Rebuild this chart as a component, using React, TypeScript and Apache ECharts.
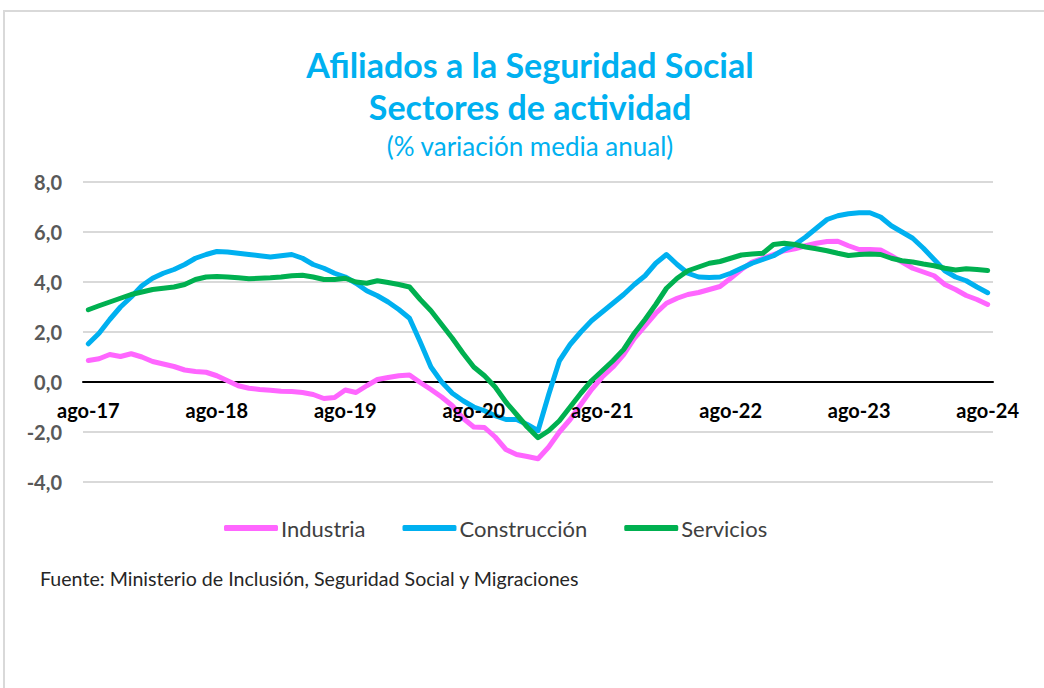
import React, { useEffect, useRef } from "react";
import * as echarts from "echarts";

const monthAbbr = ["ene", "feb", "mar", "abr", "may", "jun", "jul", "ago", "sep", "oct", "nov", "dic"];
const startYear = 2017;
const startMonth = 7; // ago
const monthCount = 85;
const categories: string[] = [];
for (let k = 0; k < monthCount; k++) {
  const m = (startMonth + k) % 12;
  const y = startYear + Math.floor((startMonth + k) / 12);
  categories.push(monthAbbr[m] + "-" + String(y).slice(2));
}

const industria = [
  0.86, 0.93, 1.1, 1.02, 1.13, 1.0, 0.82, 0.72, 0.62, 0.48, 0.42, 0.39,
  0.25, 0.05, -0.15, -0.25, -0.3, -0.33, -0.37, -0.38, -0.42, -0.5, -0.66, -0.62,
  -0.32, -0.42, -0.15, 0.1, 0.18, 0.25, 0.28, -0.02, -0.3, -0.6, -0.95, -1.45,
  -1.8, -1.82, -2.2, -2.7, -2.9, -2.98, -3.07, -2.6, -2.0, -1.5, -0.9, -0.3,
  0.2, 0.6, 1.1, 1.75, 2.25, 2.75, 3.15, 3.35, 3.5, 3.58, 3.7, 3.82,
  4.15, 4.5, 4.8, 4.95, 5.1, 5.25, 5.33, 5.45, 5.55, 5.62, 5.63, 5.45,
  5.3, 5.3, 5.28, 5.05, 4.8, 4.55, 4.4, 4.25, 3.9, 3.7, 3.46, 3.3,
  3.1,
];

const construccion = [
  1.53, 1.95, 2.5, 3.0, 3.4, 3.85, 4.15, 4.35, 4.5, 4.7, 4.95, 5.1,
  5.22, 5.2, 5.15, 5.1, 5.05, 5.0, 5.05, 5.1, 4.95, 4.7, 4.55, 4.35,
  4.2, 3.95, 3.65, 3.45, 3.2, 2.9, 2.55, 1.6, 0.6, 0.0, -0.45, -0.75,
  -1.0, -1.15, -1.35, -1.5, -1.5, -1.7, -1.95, -0.5, 0.85, 1.5, 2.0, 2.45,
  2.8, 3.15, 3.5, 3.9, 4.25, 4.75, 5.1, 4.7, 4.35, 4.2, 4.18, 4.2,
  4.35, 4.55, 4.75, 4.9, 5.05, 5.3, 5.5, 5.8, 6.15, 6.5, 6.65, 6.73,
  6.77, 6.77, 6.6, 6.25, 6.0, 5.75, 5.35, 4.9, 4.45, 4.2, 4.05, 3.8,
  3.57,
];

const servicios = [
  2.89, 3.05, 3.2, 3.35, 3.5, 3.6, 3.7, 3.75, 3.8, 3.9, 4.1, 4.2,
  4.22, 4.2, 4.17, 4.13, 4.15, 4.17, 4.2, 4.25, 4.27, 4.2, 4.1, 4.1,
  4.15, 4.0, 3.95, 4.05, 3.98, 3.9, 3.8, 3.3, 2.85, 2.3, 1.75, 1.15,
  0.6, 0.25, -0.2, -0.8, -1.3, -1.8, -2.23, -1.95, -1.55, -1.0, -0.45, 0.05,
  0.45, 0.85, 1.3, 1.95, 2.5, 3.1, 3.75, 4.15, 4.45, 4.6, 4.75, 4.82,
  4.95, 5.08, 5.12, 5.15, 5.5, 5.55, 5.5, 5.4, 5.33, 5.25, 5.15, 5.06,
  5.1, 5.12, 5.1, 4.95, 4.85, 4.8, 4.72, 4.65, 4.55, 4.48, 4.53, 4.5,
  4.46,
];

const seriesNames = ["Industria", "Construcción", "Servicios"];
const seriesColors = ["#FF66FF", "#00B0F0", "#00B050"];

const titleLine1 = "Afiliados a la Seguridad Social";
const titleLine2 = "Sectores de actividad";
const subtitle = "(% variación media anual)";
const sourceText = "Fuente: Ministerio de Inclusión, Seguridad Social y Migraciones";

const FONT = "Lato, 'Noto Sans', sans-serif";

export default function App() {
  const ref = useRef<HTMLDivElement>(null);
  useEffect(() => {
    if (!ref.current) return;
    const chart = echarts.init(ref.current, undefined, { renderer: "svg" });
    const data = [industria, construccion, servicios];
    chart.setOption({
      animation: false,
      backgroundColor: "#ffffff",
      textStyle: { fontFamily: FONT },
      grid: { left: 83, right: 51, top: 182, bottom: 206, containLabel: false },
      graphic: [
        {
          type: "rect",
          shape: { x: 4, y: 11, width: 1200, height: 800 },
          style: { fill: "none", stroke: "#d9d9d9", lineWidth: 2 },
          silent: true,
        },
        {
          type: "text",
          x: 530,
          y: 64,
          style: {
            text: titleLine1,
            fill: "#00B0F0",
            font: "bold 34px " + FONT,
            textAlign: "center",
            textVerticalAlign: "middle",
          },
        },
        {
          type: "text",
          x: 530,
          y: 106,
          style: {
            text: titleLine2,
            fill: "#00B0F0",
            font: "bold 34px " + FONT,
            textAlign: "center",
            textVerticalAlign: "middle",
          },
        },
        {
          type: "text",
          x: 530,
          y: 146,
          style: {
            text: subtitle,
            fill: "#00B0F0",
            font: "26px " + FONT,
            textAlign: "center",
            textVerticalAlign: "middle",
          },
        },
        {
          type: "text",
          x: 40,
          y: 578,
          style: {
            text: sourceText,
            fill: "#262626",
            font: "19.6px " + FONT,
            textAlign: "left",
            textVerticalAlign: "middle",
          },
        },
      ],
      legend: {
        data: seriesNames,
        left: 219,
        top: 512,
        icon: "roundRect",
        itemWidth: 54,
        itemHeight: 6,
        itemGap: 37,
        textStyle: { fontSize: 22, color: "#404040", fontFamily: FONT, padding: [0, 0, 0, -2] },
      },
      xAxis: [
        {
          type: "category",
          data: categories,
          boundaryGap: true,
          axisLine: { onZero: true, lineStyle: { color: "#000000", width: 2 } },
          axisTick: { show: false },
          axisLabel: { show: false },
          splitLine: { show: false },
        },
        {
          type: "category",
          data: categories,
          boundaryGap: true,
          position: "bottom",
          offset: -100,
          z: 10,
          axisLine: { show: false, onZero: false },
          axisTick: { show: false },
          axisLabel: {
            interval: 11,
            margin: 18,
            color: "#000000",
            fontWeight: "bold",
            fontSize: 20,
            fontFamily: FONT,
          },
          splitLine: { show: false },
        },
      ],
      yAxis: {
        type: "value",
        min: -4,
        max: 8,
        interval: 2,
        axisLine: { show: false },
        axisTick: { show: false },
        axisLabel: {
          margin: 21,
          color: "#595959",
          fontWeight: "bold",
          fontSize: 20,
          fontFamily: FONT,
          formatter: (v: number) => v.toFixed(1).replace(".", ","),
        },
        splitLine: { lineStyle: { color: "#d9d9d9", width: 2 } },
      },
      series: seriesNames.map((name, i) => ({
        name,
        type: "line",
        xAxisIndex: 0,
        data: data[i],
        symbol: "none",
        smooth: false,
        lineStyle: { color: seriesColors[i], width: 5, cap: "round", join: "round" },
        itemStyle: { color: seriesColors[i] },
      })),
    });
    return () => chart.dispose();
  }, []);
  return (
    <div
      ref={ref}
      style={{ position: "fixed", left: 0, top: 0, width: 1044, height: 688 }}
    />
  );
}
